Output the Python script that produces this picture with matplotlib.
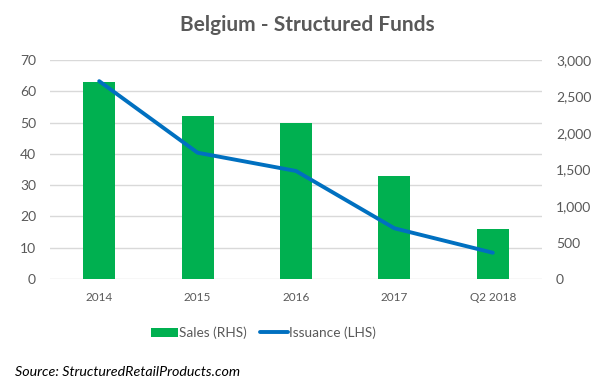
import matplotlib
matplotlib.use("Agg")
import matplotlib.pyplot as plt
import numpy as np

categories = ["2014", "2015", "2016", "2017", "Q2 2018"]
sales = [63, 52, 50, 33, 16]            # bars, left scale
issuance = [2710, 1730, 1480, 695, 360]  # line, right scale
left_ticks = [0, 10, 20, 30, 40, 50, 60, 70]
right_ticks = [0, 500, 1000, 1500, 2000, 2500, 3000]

plt.rcParams['font.family'] = ['Lato', 'DejaVu Sans']
gray = '#595959'

fig = plt.figure(figsize=(6.15, 3.87), dpi=100)
ax = fig.add_axes([0.0813, 0.279, 0.8, 0.566])
x = np.arange(len(categories))
bars = ax.bar(x, sales, width=0.325, color='#00B050', label='Sales (RHS)', zorder=2)
ax.set_xlim(-0.5, len(categories) - 0.5)
ax.set_ylim(0, 70)
ax.set_yticks(left_ticks)
ax.set_xticks(x)
ax.set_xticklabels(categories)
ax.grid(axis='y', color='#D9D9D9', linewidth=1, zorder=0)
ax.set_axisbelow(True)
for s in ax.spines.values():
    s.set_visible(False)
ax.tick_params(axis='both', length=0, colors=gray, labelsize=10)
ax.tick_params(axis='x', labelsize=8.5, pad=9)
ax.tick_params(axis='y', pad=10)

ax2 = ax.twinx()
line, = ax2.plot(x, issuance, color='#0070C0', linewidth=2.8, solid_capstyle='round',
                 label='Issuance (LHS)', zorder=3)
ax2.set_ylim(0, 3000)
ax2.set_yticks(right_ticks)
ax2.set_yticklabels([f"{v:,}" for v in right_ticks])
for s in ax2.spines.values():
    s.set_visible(False)
ax2.tick_params(axis='y', length=0, colors=gray, labelsize=10, pad=10)

fig.text(0.5, 0.935, "Belgium - Structured Funds", ha='center', va='center',
         fontsize=15, fontweight='bold', color=gray)

fig.legend([bars, line], ['Sales (RHS)', 'Issuance (LHS)'], loc='center',
           bbox_to_anchor=(0.428, 0.14), ncol=2, frameon=False, fontsize=9.8,
           labelcolor=gray, handlelength=2.0, handletextpad=0.1, columnspacing=1.0)

fig.text(0.025, 0.04, "Source: StructuredRetailProducts.com", ha='left', va='center',
         fontsize=10.3, style='italic', color='black')

fig.savefig("out.png", dpi=100)
